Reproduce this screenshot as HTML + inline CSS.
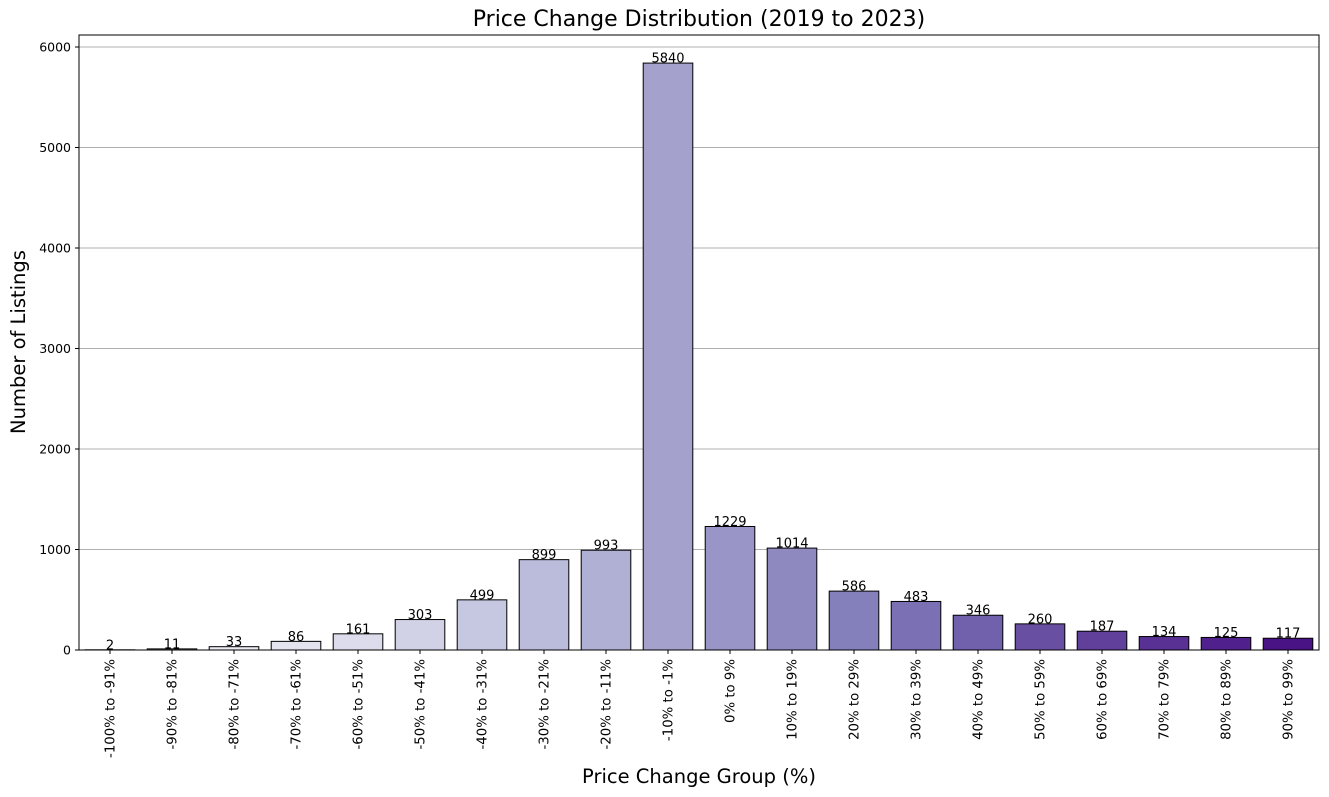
<!DOCTYPE html>
<html><head><meta charset="utf-8"><style>
body{margin:0;background:#fff;}
svg{display:block;font-family:"DejaVu Sans","Liberation Sans",sans-serif;}
</style></head><body>
<svg id="chart" width="1329" height="797" xmlns="http://www.w3.org/2000/svg">
<text x="699" y="26" font-size="22" text-anchor="middle">Price Change Distribution (2019 to 2023)</text>
<text x="0" y="0" font-size="19.5" text-anchor="middle" transform="translate(25,342) rotate(-90)">Number of Listings</text>
<text x="699" y="783" font-size="19.5" text-anchor="middle">Price Change Group (%)</text>
<g id="grid"></g><g id="bars"></g><g id="axes"></g>
</svg>
<script>
const categories=["-100% to -91%","-90% to -81%","-80% to -71%","-70% to -61%","-60% to -51%","-50% to -41%","-40% to -31%","-30% to -21%","-20% to -11%","-10% to -1%","0% to 9%","10% to 19%","20% to 29%","30% to 39%","40% to 49%","50% to 59%","60% to 69%","70% to 79%","80% to 89%","90% to 99%"];
const counts=[2,11,33,86,161,303,499,899,993,5840,1229,1014,586,483,346,260,187,134,125,117];
const yTicks=[0,1000,2000,3000,4000,5000,6000];
const L=79,R=1319,T=35,B=650;
const NS="http://www.w3.org/2000/svg";
const yScale=v=>B-v*(603/6000);
const step=(R-L)/categories.length;
const xCenter=i=>L+step*(i+0.5);
const stops=[[0,[252,251,253]],[.125,[239,237,245]],[.25,[218,218,235]],[.375,[188,189,220]],[.5,[158,154,200]],[.625,[128,125,186]],[.75,[106,81,163]],[.875,[84,39,143]],[1,[63,0,125]]];
function purple(t){for(let k=1;k<stops.length;k++){if(t<=stops[k][0]){const a=stops[k-1],b=stops[k],f=(t-a[0])/(b[0]-a[0]);return "rgb("+a[1].map((c,j)=>Math.round(c+(b[1][j]-c)*f)).join(",")+")";}}return "rgb(63,0,125)";}
function mk(tag,attrs,parent){const e=document.createElementNS(NS,tag);for(const k in attrs)e.setAttribute(k,attrs[k]);parent.appendChild(e);return e;}
const grid=document.getElementById('grid'),bars=document.getElementById('bars'),axes=document.getElementById('axes');
yTicks.forEach(v=>{
  const y=yScale(v);
  const g=mk('line',{x1:L,x2:R,y1:y,y2:y,stroke:'#b0b0b0','stroke-width':1},grid);
  
  
  mk('line',{x1:L-4,x2:L,y1:y,y2:y,stroke:'#000'},axes);
  const t=mk('text',{x:L-8,y:y+4.5,'font-size':12.5,'text-anchor':'end'},axes);
  t.textContent=v;
  
  
});
categories.forEach((c,i)=>{
  const x=xCenter(i),w=step*0.8,y=yScale(counts[i]);
  const r=mk('rect',{x:x-w/2,y:y,width:w,height:B-y,fill:purple(0.05+i*0.047),stroke:'#000','stroke-width':1},bars);
  
  
  const lb=mk('text',{x:x,y:y-0.5,'font-size':13,'text-anchor':'middle'},bars);
  lb.textContent=counts[i];
  
  
  mk('line',{x1:x,x2:x,y1:B,y2:B+4,stroke:'#000'},axes);
  const tl=mk('text',{x:0,y:0,'font-size':13.3,'text-anchor':'end',transform:`translate(${x+4.5},${B+9}) rotate(-90)`},axes);
  tl.textContent=c;
  
  
});
const fr=mk('rect',{x:L,y:T,width:R-L,height:B-T,fill:'none',stroke:'#000','stroke-width':1},axes);


</script>
</body></html>
